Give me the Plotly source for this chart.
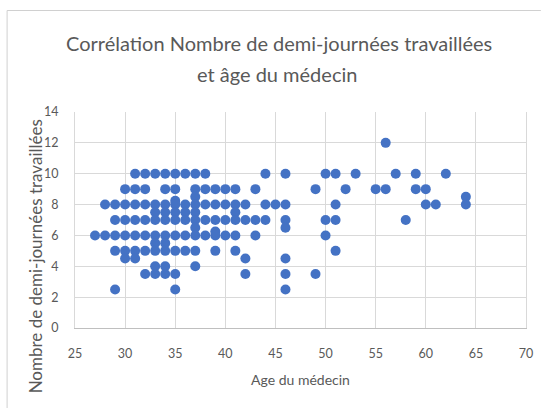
import plotly.graph_objects as go

# Age du médecin (x) and Nombre de demi-journées travaillées (y)
ages = (
    [27] + [28]*2 + [29]*5 + [30]*6 + [31]*7 + [32]*7 + [33]*9 + [34]*10 + [35]*10
    + [36]*6 + [37]*10 + [38]*5 + [39]*6 + [40]*4 + [41]*6 + [42]*4 + [43]*3 + [44]*3
    + [45] + [46]*7 + [49]*2 + [50]*3 + [51]*4 + [52] + [53] + [55] + [56]*2 + [57]
    + [58] + [59]*2 + [60]*2 + [61] + [62] + [64]*2
)
demi_journees = (
    [6]
    + [8, 6]
    + [8, 7, 6, 5, 2.5]
    + [9, 8, 7, 6, 5, 4.5]
    + [10, 9, 8, 7, 6, 5, 4.5]
    + [10, 9, 8, 7, 6, 5, 3.5]
    + [10, 8, 7.5, 7, 6, 5.5, 5, 4, 3.5]
    + [10, 9, 8, 7.5, 7, 6, 5.5, 5, 4, 3.5]
    + [10, 9, 8.25, 8, 7.5, 7, 6, 5, 3.5, 2.5]
    + [10, 8, 7.5, 7, 6, 5]
    + [10, 9, 8.5, 8, 7.5, 7, 6.5, 6, 5, 4]
    + [10, 9, 8, 7, 6]
    + [9, 8, 7, 6.25, 6, 5]
    + [9, 8, 7, 6]
    + [9, 8, 7.5, 7, 6, 5]
    + [8, 7, 4.5, 3.5]
    + [9, 7, 6]
    + [10, 8, 7]
    + [8]
    + [10, 8, 7, 6.5, 4.5, 3.5, 2.5]
    + [9, 3.5]
    + [10, 7, 6]
    + [10, 8, 7, 5]
    + [9]
    + [10]
    + [9]
    + [12, 9]
    + [10]
    + [7]
    + [10, 9]
    + [9, 8]
    + [8]
    + [10]
    + [8.5, 8]
)

x_ticks = [25, 30, 35, 40, 45, 50, 55, 60, 65, 70]
y_ticks = [0, 2, 4, 6, 8, 10, 12, 14]

title_line1 = "Corrélation Nombre de demi-journées travaillées"
title_line2 = "et âge du médecin"
x_title = "Age du médecin"
y_title = "Nombre de demi-journées travaillées"

FONT = "Lato"
GREY = "#595959"

# chart-area border (pixel positions converted to paper fractions)
PL, PT, PW, PH = 75, 112, 455, 216
def px_x(p):
    return (p - PL) / PW
def px_y(p):
    return (PT + PH - p) / PH

fig = go.Figure(
    go.Scatter(
        x=ages, y=demi_journees, mode="markers",
        marker=dict(size=10, color="#4472C4"),
        showlegend=False, cliponaxis=False,
    )
)

border = dict(color="#d0d0d0", width=1)
fig.update_layout(
    width=545, height=408,
    margin=dict(l=PL, r=545 - PL - PW, t=PT, b=408 - PT - PH),
    paper_bgcolor="white", plot_bgcolor="white",
    font=dict(family=FONT, color=GREY, size=12),
    annotations=[
        dict(text=title_line1, xref="paper", yref="paper", x=px_x(281), y=px_y(43),
             showarrow=False, xanchor="center", yanchor="middle", font=dict(size=20, color=GREY, family=FONT)),
        dict(text=title_line2, xref="paper", yref="paper", x=px_x(279), y=px_y(74),
             showarrow=False, xanchor="center", yanchor="middle", font=dict(size=20, color=GREY, family=FONT)),
        dict(text=y_title, xref="paper", yref="paper", x=px_x(35), y=px_y(256),
             textangle=-90, showarrow=False, xanchor="center", yanchor="middle",
             font=dict(size=17, color=GREY, family=FONT)),
    ],
    shapes=[
        dict(type="line", xref="paper", yref="paper", x0=px_x(6.5), x1=px_x(545), y0=px_y(10.5), y1=px_y(10.5),
             line=border),
        dict(type="line", xref="paper", yref="paper", x0=px_x(6.5), x1=px_x(6.5), y0=px_y(10.5), y1=px_y(408),
             line=border),
    ],
)

fig.update_xaxes(
    range=[25, 70], tickvals=x_ticks, ticktext=[str(v) for v in x_ticks],
    showgrid=True, gridcolor="#d9d9d9", gridwidth=1,
    zeroline=False, showline=True, linecolor="#bfbfbf", linewidth=1, mirror=False,
    ticks="", ticklabelstandoff=14, tickfont=dict(size=12.5, color=GREY),
    title=dict(text=x_title, font=dict(size=14, color=GREY), standoff=15),
)
fig.update_yaxes(
    range=[0, 14], tickvals=y_ticks, ticktext=[str(v) for v in y_ticks],
    showgrid=True, gridcolor="#d9d9d9", gridwidth=1,
    zeroline=False, showline=True, linecolor="#d9d9d9", linewidth=1, mirror=True,
    ticks="", ticklabelstandoff=13, tickfont=dict(size=12.5, color=GREY),
)

fig.write_html("out.html", config={"displayModeBar": False},
               post_script="document.body.style.margin='0';")
